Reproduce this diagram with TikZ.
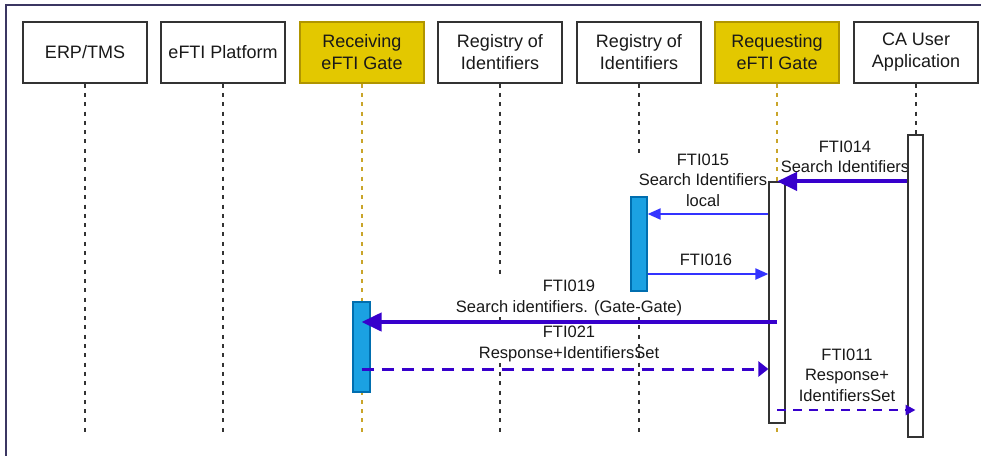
\documentclass[tikz,border=0pt]{standalone}
\usepackage{fontspec}
\setmainfont{Liberation Sans}
\usetikzlibrary{arrows.meta}
\definecolor{msgpurple}{HTML}{3700CC}
\definecolor{msgblue}{HTML}{3333FF}
\definecolor{gatefill}{HTML}{E3C800}
\definecolor{gatedraw}{HTML}{B09500}
\definecolor{gateline}{HTML}{C9A52A}
\definecolor{actfill}{HTML}{1BA1E2}
\definecolor{actdraw}{HTML}{006EAF}
\definecolor{framecol}{HTML}{3B3662}

\begin{document}
\begin{tikzpicture}[x=1pt,y=-1pt,
  part/.style={draw=black!80,line width=1.3pt,fill=white,minimum width=124pt,minimum height=61pt,inner sep=0pt,align=center,text=black!90,font=\fontsize{18}{22}\selectfont},
  gate/.style={part,fill=gatefill,draw=gatedraw},
  life/.style={black!80,line width=1.5pt,dash pattern=on 4pt off 5.3pt},
  gatelife/.style={life,gateline},
  bar/.style={draw=black!80,line width=1.2pt,fill=white,inner sep=0pt},
  actbar/.style={bar,draw=actdraw,fill=actfill},
  lbl/.style={fill=white,inner sep=1pt,align=center,text=black!90,font=\fontsize{16.5}{20.5}\selectfont},
  call/.style={msgpurple,line width=4pt,-{Triangle[length=20pt,width=18pt]}},
  local/.style={msgblue,line width=2pt,-{Triangle[length=13pt,width=11pt]}},
  reply/.style={msgpurple,line width=3pt,dash pattern=on 12pt off 8pt,-{Triangle[length=10pt,width=15pt]}},
  shortreply/.style={msgpurple,line width=2.5pt,dash pattern=on 9pt off 7pt,-{Triangle[length=10pt,width=10pt]}}
]
\useasboundingbox (0,0) rectangle (981,456);
\draw[framecol,line width=2pt] (981,5) -- (6,5) -- (6,456);

\node[part] (erp) at (85,52.5) {ERP/TMS};
\node[part] (platform) at (223,52.5) {eFTI Platform};
\node[gate] (recv) at (362,52.5) {Receiving\\eFTI Gate};
\node[part] (reg1) at (500,52.5) {Registry of\\Identifiers};
\node[part] (reg2) at (639,52.5) {Registry of\\Identifiers};
\node[gate] (req) at (777,52.5) {Requesting\\eFTI Gate};
\node[part] (causer) at (916,52.5) {CA User\\Application};

\coordinate (bottom) at (0,437);
\foreach \p in {erp,platform,reg1,causer}
  \draw[life] (\p.south) -- (\p.south |- bottom);
\foreach \p in {recv,req}
  \draw[gatelife] (\p.south) -- (\p.south |- bottom);

\node[lbl] (l021) at (569,344) {FTI021\\Response+IdentifiersSet};
\draw[life] (reg2.south) -- (reg2.south |- bottom);
\node[lbl] (l014) at (845,157) {FTI014\\Search Identifiers};
\node[lbl] (l015) at (703,180) {FTI015\\Search Identifiers\\local};
\node[lbl] (l016) at (706,260) {FTI016};
\node[lbl] (l019) at (569,298) {FTI019\\Search identifiers. (Gate-Gate)};
\node[lbl] (l011) at (847,375) {FTI011\\Response+\\IdentifiersSet};

\node[bar,minimum width=15pt,minimum height=302pt] (causerbar) at (915.5,286) {};
\node[bar,minimum width=16pt,minimum height=241pt] (reqbar) at (777,302.5) {};
\node[actbar,minimum width=16pt,minimum height=94pt] (reg2bar) at (639,244) {};
\node[actbar,minimum width=17pt,minimum height=90pt] (recvbar) at (361.5,347) {};

\coordinate (r15) at (0,214);
\coordinate (r16) at (0,274);
\coordinate (r19) at (0,322);
\coordinate (r21) at (0,369);
\coordinate (r11) at (0,410);
\draw[call] (causerbar.west |- reqbar.north) -- (reqbar.north);
\draw[local] (reqbar.west |- r15) -- (reg2bar.east |- r15);
\draw[local] (reg2bar.east |- r16) -- (reqbar.west |- r16);
\draw[call] (reqbar.center |- r19) -- (recvbar.center |- r19);
\draw[reply] (recvbar.center |- r21) -- (reqbar.west |- r21);
\draw[shortreply] (reqbar.center |- r11) -- (causerbar.center |- r11);
\end{tikzpicture}
\end{document}
